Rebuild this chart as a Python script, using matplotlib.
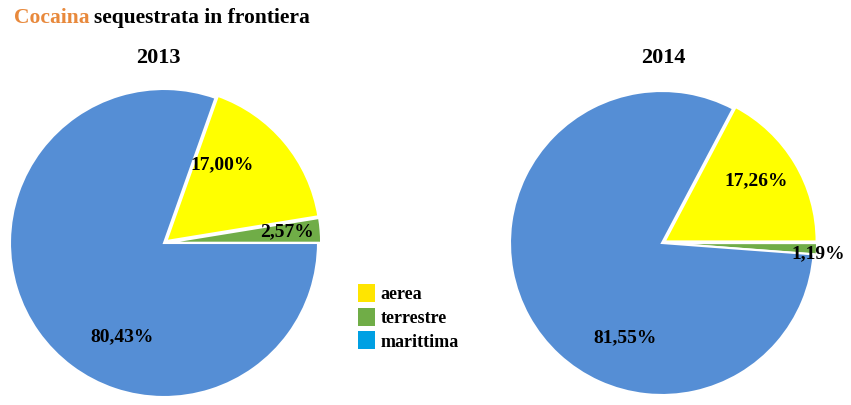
import matplotlib
matplotlib.use("Agg")
import matplotlib.pyplot as plt
from matplotlib.patches import Patch

plt.rcParams['font.family'] = ['Liberation Serif', 'DejaVu Serif']
plt.rcParams['font.weight'] = 'bold'

# dati
categorie = ['aerea', 'terrestre', 'marittima']
anni = ['2013', '2014']
valori_2013 = [17.00, 2.57, 80.43]
valori_2014 = [17.26, 1.19, 81.55]

colori_torta = ['#ffff00', '#70ad47', '#558ed5']
colori_legenda = ['#ffe500', '#70ad47', '#00a0e3']

fig = plt.figure(figsize=(8.51, 4.05), dpi=100)
W, H = 851, 405


def add_pie(cx, cy, r, valori, startangle, label_pos, anno, title_x):
    ax = fig.add_axes([(cx - r) / W, (H - cy - r) / H, 2 * r / W, 2 * r / H])
    wedges, _ = ax.pie(valori, colors=colori_torta, startangle=startangle,
                       counterclock=False, explode=[0.02, 0.02, 0],
                       wedgeprops=dict(edgecolor='white', linewidth=1.5))
    for w in wedges:
        w.set_clip_on(False)
    ax.set_xlim(-1, 1)
    ax.set_ylim(-1, 1)
    ax.set_aspect('equal')
    ax.axis('off')
    for v, (x, y) in zip(valori, label_pos):
        ax.text(x, y, f"{v:.2f}%".replace('.', ','), ha='center', va='center',
                fontsize=14, fontweight='bold', color='black')
    fig.text(title_x / W, 1 - 58 / H, anno, ha='center', va='center',
             fontsize=16, fontweight='bold')


add_pie(164, 243, 154, valori_2013, (valori_2013[0] + valori_2013[1]) * 3.6,
        [(0.38, 0.51), (0.80, 0.07), (-0.27, -0.61)], anni[0], 158)
add_pie(662, 243, 152, valori_2014, valori_2014[0] * 3.6,
        [(0.62, 0.41), (1.03, -0.07), (-0.24, -0.62)], anni[1], 663)

# titolo a due colori
t1 = fig.text(14 / W, 1 - 18 / H, 'Cocaina', color='#e8893c', fontsize=15.5,
              fontweight='bold', ha='left', va='center')
fig.canvas.draw()
bb = t1.get_window_extent()
fig.text((bb.x1 + 4) / W, 1 - 18 / H, 'sequestrata in frontiera', color='black',
         fontsize=15.5, fontweight='bold', ha='left', va='center')

handles = [Patch(facecolor=c, edgecolor='none') for c in colori_legenda]
fig.legend(handles, categorie, loc='upper left',
           bbox_to_anchor=(342 / W, 1 - 268 / H), frameon=False,
           prop=dict(size=13, weight='bold'), handlelength=0.95,
           handleheight=1.15, handletextpad=0.3, labelspacing=0.25)

fig.savefig('out.png', dpi=100)
